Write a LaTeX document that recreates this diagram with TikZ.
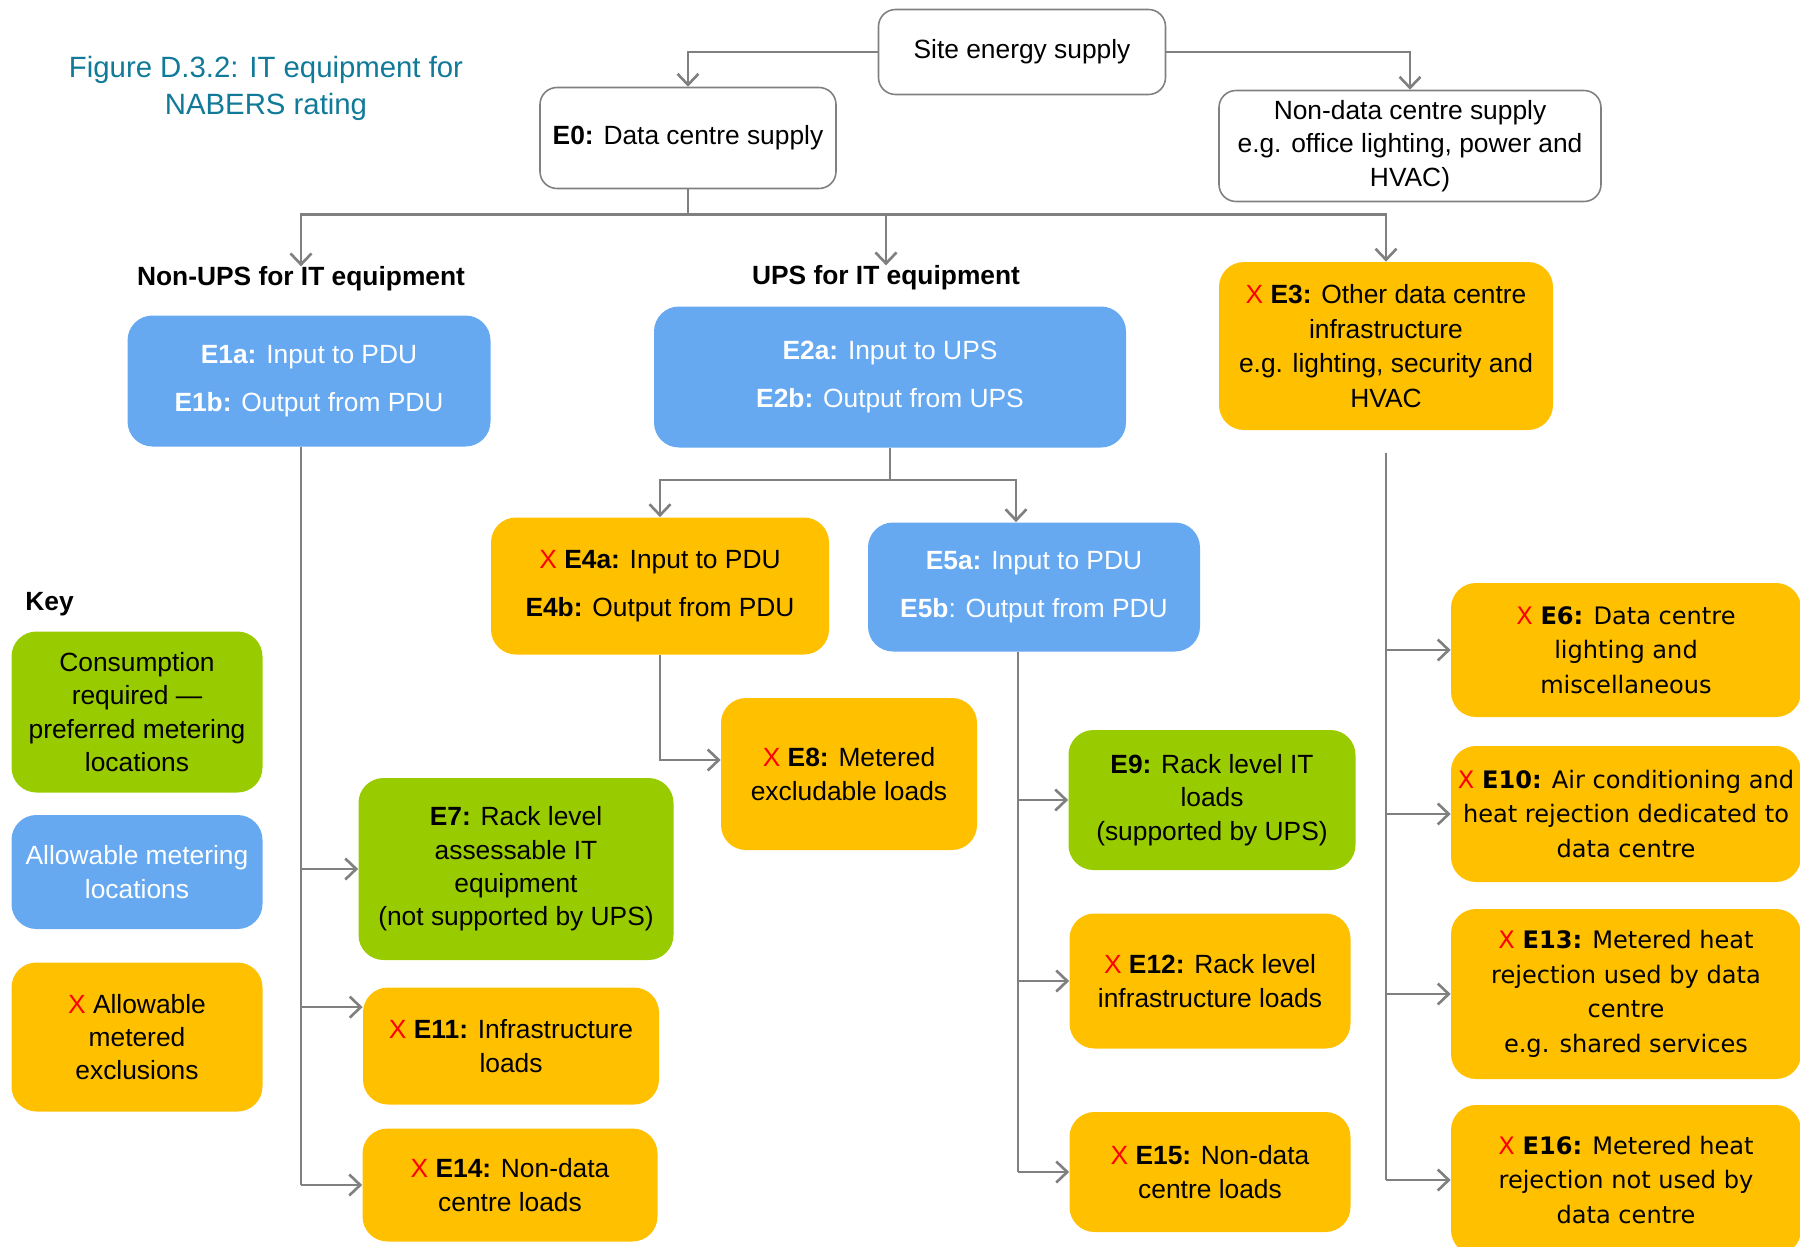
\documentclass[tikz,border=0pt]{standalone}
\usepackage{fontspec}
\setmainfont{Liberation Sans}
\newfontfamily\widefont{DejaVu Sans}
\usepackage{xcolor}
\usetikzlibrary{arrows.meta}
\definecolor{meterblue}{RGB}{102,169,241}
\definecolor{metergreen}{RGB}{153,204,0}
\definecolor{meterorange}{RGB}{255,192,0}
\definecolor{wiregray}{RGB}{128,128,128}
\definecolor{titleteal}{RGB}{16,122,152}
\definecolor{xred}{RGB}{255,0,0}
\newcommand{\redx}{\textcolor{xred}{X}\ }

\begin{document}
\begin{tikzpicture}[x=0.02cm, y=-0.02cm,
	every node/.style={align=center, inner sep=0pt, font=\fontsize{15}{19}\selectfont},
	wh/.style 2 args={minimum width=#1*0.02cm, minimum height=#2*0.02cm},
	plainbox/.style={draw=wiregray, line width=0.9pt, fill=white, rounded corners=0.34cm},
	bluebox/.style={fill=meterblue, text=white, rounded corners=0.5cm},
	greenbox/.style={fill=metergreen, rounded corners=0.5cm},
	orangebox/.style={fill=meterorange, rounded corners=0.5cm},
	widetext/.style={font=\widefont\fontsize{13.7}{19.6}\selectfont},
	pairtext/.style={font=\fontsize{15}{27}\selectfont},
	heading/.style={font=\bfseries\fontsize{15}{19}\selectfont},
	wire/.style={draw=wiregray, line width=1.5pt},
	feed/.style={wire, -{Straight Barb[length=0.22cm, width=0.42cm]}}]
		\useasboundingbox (0,0) rectangle (1800,1247);
		\node[text=titleteal, font=\fontsize{16.7}{21}\selectfont] (title) at (266,88) {Figure D.3.2: IT equipment for\\NABERS rating};
		\node[plainbox, wh={287}{85}] (site) at (1022,52) {Site energy supply};
		\node[plainbox, wh={296}{101}] (e0) at (688,138) {\textbf{E0:} Data centre supply};
		\node[plainbox, wh={382}{111}] (nondata) at (1410,146) {Non-data centre supply\\e.g. office lighting, power and\\HVAC)};
		\node[heading] (nonups) at (301,279) {Non-UPS for IT equipment};
		\node[heading] (ups) at (886,278) {UPS for IT equipment};
		\node[bluebox, pairtext, wh={363}{131}] (e1) at (309,381) {\textbf{E1a:} Input to PDU\\\textbf{E1b:} Output from PDU};
		\node[bluebox, pairtext, wh={472}{141}] (e2) at (890,377) {\textbf{E2a:} Input to UPS\\\textbf{E2b:} Output from UPS};
		\node[orangebox, font=\fontsize{15}{19.8}\selectfont, wh={334}{168}] (e3) at (1386,346) {\redx\textbf{E3:} Other data centre\\infrastructure\\e.g. lighting, security and\\HVAC};
		\node[orangebox, pairtext, wh={338}{137}] (e4) at (660,586) {\redx\textbf{E4a:} Input to PDU\\\textbf{E4b:} Output from PDU};
		\node[bluebox, pairtext, wh={332}{129}] (e5) at (1034,587) {\textbf{E5a:} Input to PDU\\\textbf{E5b}: Output from PDU};
		\node[orangebox, wh={256}{152}] (e8) at (849,774) {\redx\textbf{E8:} Metered\\excludable loads};
		\node[greenbox, wh={315}{182}] (e7) at (516,869) {\textbf{E7:} Rack level\\assessable IT\\equipment\\(not supported by UPS)};
		\node[orangebox, wh={296}{117}] (e11) at (511,1046) {\redx\textbf{E11:} Infrastructure\\loads};
		\node[orangebox, wh={295}{113}] (e14) at (510,1185) {\redx\textbf{E14:} Non-data\\centre loads};
		\node[greenbox, wh={287}{140}] (e9) at (1212,800) {\textbf{E9:} Rack level IT\\loads\\(supported by UPS)};
		\node[orangebox, wh={281}{135}] (e12) at (1210,981) {\redx\textbf{E12:} Rack level\\infrastructure loads};
		\node[orangebox, wh={281}{120}] (e15) at (1210,1172) {\redx\textbf{E15:} Non-data\\centre loads};
		\node[orangebox, widetext, wh={350}{134}] (e6) at (1626,650) {\redx\textbf{E6:} Data centre\\lighting and\\miscellaneous};
		\node[orangebox, widetext, wh={350}{136}] (e10) at (1626,814) {\redx\textbf{E10:} Air conditioning and\\heat rejection dedicated to\\data centre};
		\node[orangebox, widetext, wh={350}{170}] (e13) at (1626,994) {\redx\textbf{E13:} Metered heat\\rejection used by data\\centre\\e.g. shared services};
		\node[orangebox, widetext, wh={350}{150}] (e16) at (1626,1180) {\redx\textbf{E16:} Metered heat\\rejection not used by\\data centre};
		\node[heading, anchor=west] (keyhead) at (25,604) {Key};
		\node[greenbox, wh={251}{161}] (keygreen) at (137,712) {Consumption\\required —\\preferred metering\\locations};
		\node[bluebox, wh={251}{114}] (keyblue) at (137,872) {Allowable metering\\locations};
		\node[orangebox, wh={251}{149}] (keyorange) at (137,1037) {\redx Allowable\\metered\\exclusions};
		\draw[feed] (site.west) -| (e0.north);
		\draw[feed] (site.east) -| (nondata.north);
		\draw[wire] (e0.south) -- ++(0,25) coordinate (split0);
		\draw[feed] (split0) -| (nonups.north);
		\draw[feed] (split0) -| (ups.north);
		\draw[feed] (split0) -| (e3.north);
		\draw[wire] (e2.south) -- ++(0,32) coordinate (split2);
		\draw[feed] (split2) -| (e4.north);
		\draw[feed] (split2) -| ([xshift=-0.36cm]e5.north);
		\draw[feed] (e4.south) |- ([yshift=0.28cm]e8.west);
		\draw[wire] (nonups |- e1.south) -- (nonups |- e14.west);
		\coordinate (e11in) at ([yshift=-0.4cm]e11.north west);
		\draw[feed] (nonups |- e7.west) -- (e7.west);
		\draw[feed] (nonups |- e11in) -- (e11in);
		\draw[feed] (nonups |- e14.west) -- (e14.west);
		\coordinate (e5out) at ([xshift=-0.32cm]e5.south);
		\draw[wire] (e5out) -- (e5out |- e15.west);
		\draw[feed] (e5out |- e9.west) -- (e9.west);
		\draw[feed] (e5out |- e12.west) -- (e12.west);
		\draw[feed] (e5out |- e15.west) -- (e15.west);
		\draw[wire] ([yshift=-0.46cm]e3.south) -- (e3.south |- e16.west);
		\draw[feed] (e3.south |- e6.west) -- (e6.west);
		\draw[feed] (e3.south |- e10.west) -- (e10.west);
		\draw[feed] (e3.south |- e13.west) -- (e13.west);
		\draw[feed] (e3.south |- e16.west) -- (e16.west);
	\end{tikzpicture}
\end{document}
